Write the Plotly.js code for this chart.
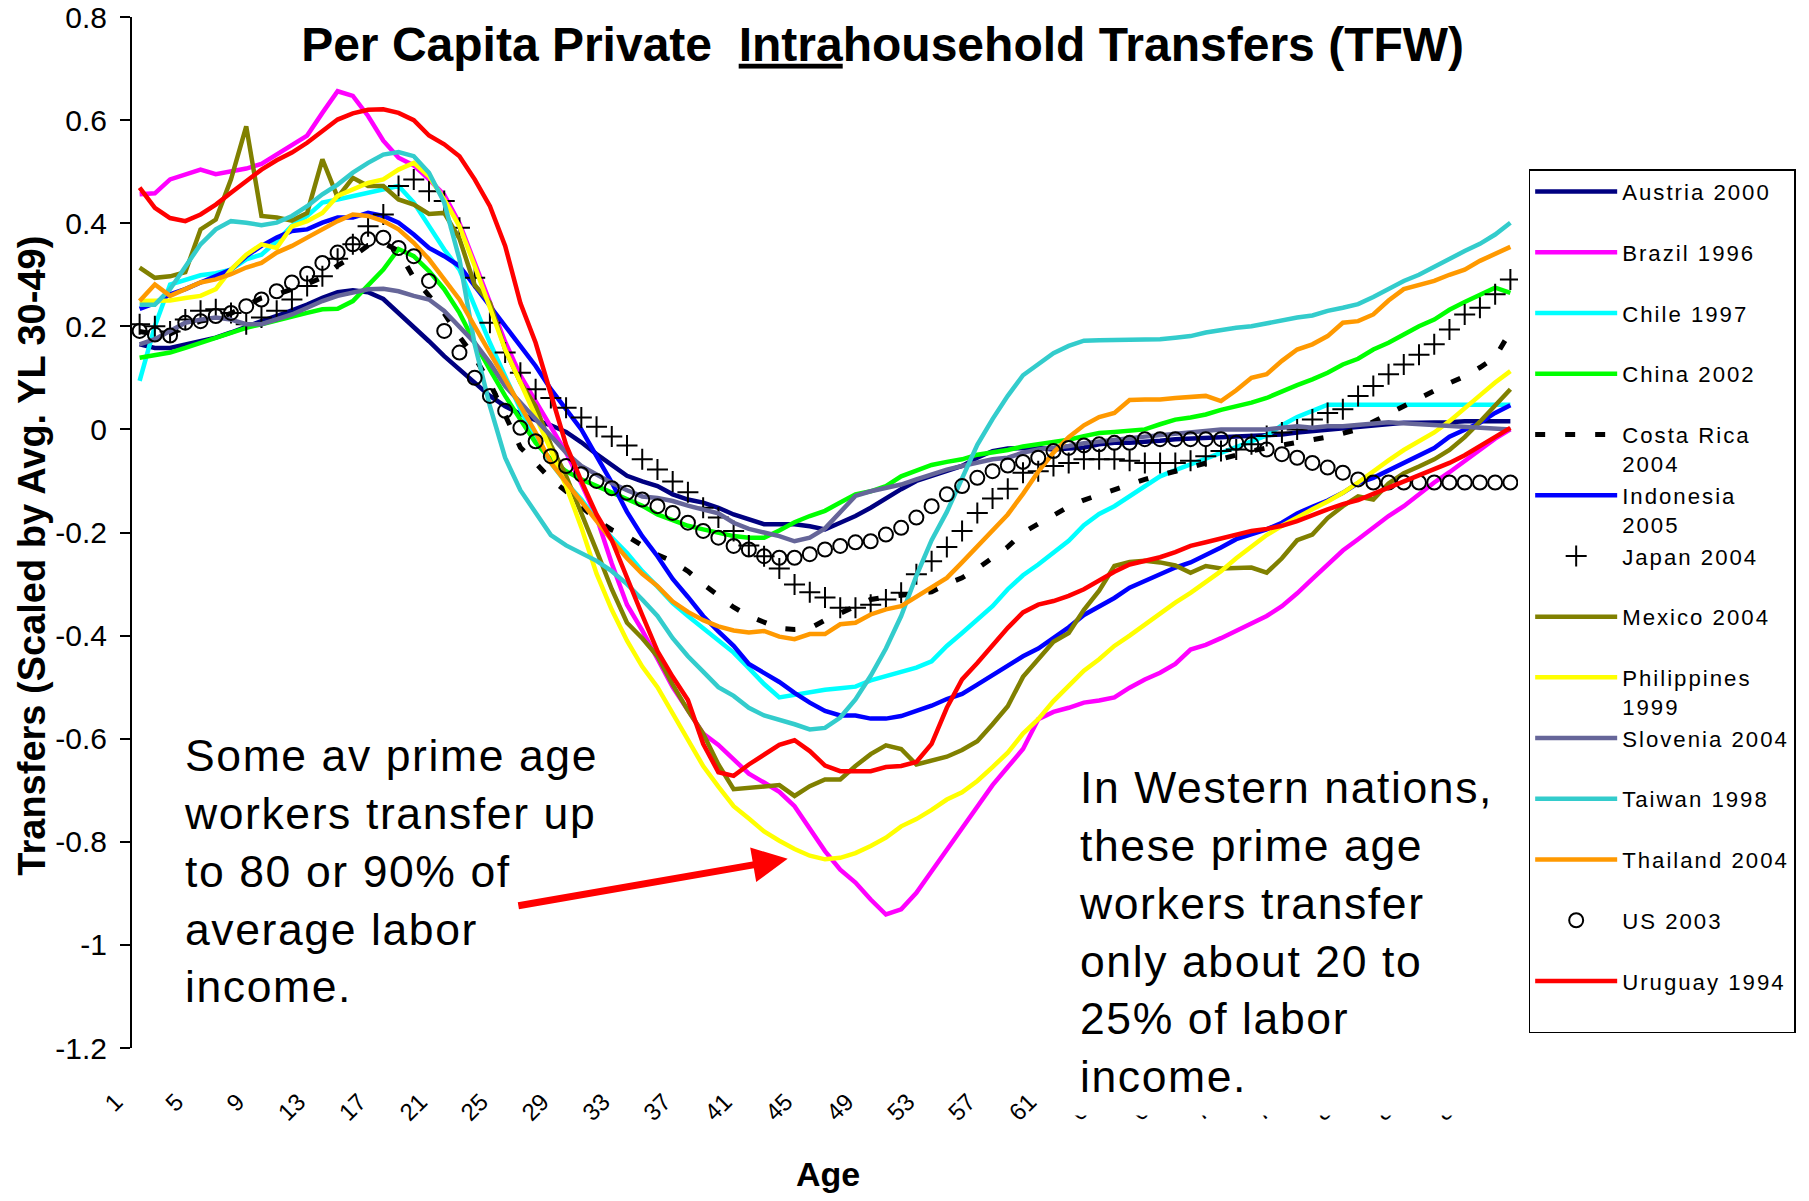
<!DOCTYPE html>
<html>
<head>
<meta charset="utf-8">
<script src="https://cdn.plot.ly/plotly-3.0.1.min.js"></script>
<style>
html,body{margin:0;padding:0;background:#fff;}
#chart{width:1809px;height:1201px;}
.legendtext{letter-spacing:2px;}
</style>
</head>
<body>
<div id="chart"></div>
<script>
// ---- categories (age) ----
const ages = [1,2,3,4,5,6,7,8,9,10,11,12,13,14,15,16,17,18,19,20,21,22,23,24,25,26,27,28,29,30,
  31,32,33,34,35,36,37,38,39,40,41,42,43,44,45,46,47,48,49,50,51,52,53,54,55,56,57,58,59,60,
  61,62,63,64,65,66,67,68,69,70,71,72,73,74,75,76,77,78,79,80,81,82,83,84,85,86,87,88,89,90,91];

// ---- tick labels ----
const xTickVals = [1,5,9,13,17,21,25,29,33,37,41,45,49,53,57,61,65,69,73,77,81,85,89];
const xTickText = ['1','5','9','13','17','21','25','29','33','37','41','45','49','53','57','61','65','69','73','77','81','85','89'];
const yTickVals = [-1.2,-1,-0.8,-0.6,-0.4,-0.2,0,0.2,0.4,0.6,0.8];
const yTickText = ['-1.2','-1','-0.8','-0.6','-0.4','-0.2','0','0.2','0.4','0.6','0.8'];

// ---- series (transfers scaled by avg. YL 30-49) ----
const austria2000 = [0.165,0.158,0.158,0.165,0.171,0.178,0.188,0.2,0.21,0.22,
  0.23,0.242,0.255,0.266,0.27,0.266,0.253,0.226,0.2,0.171,
  0.142,0.116,0.091,0.065,0.045,0.03,0.018,0.008,-0.005,-0.025,
  -0.048,-0.07,-0.09,-0.101,-0.11,-0.126,-0.136,-0.142,-0.152,-0.165,
  -0.175,-0.184,-0.184,-0.184,-0.188,-0.194,-0.181,-0.168,-0.152,-0.133,
  -0.116,-0.1,-0.091,-0.081,-0.071,-0.055,-0.042,-0.037,-0.036,-0.036,
  -0.039,-0.038,-0.035,-0.029,-0.026,-0.026,-0.025,-0.022,-0.019,-0.017,
  -0.016,-0.015,-0.014,-0.013,-0.013,-0.01,-0.006,-0.003,0.0,0.003,
  0.006,0.009,0.012,0.013,0.013,0.013,0.014,0.016,0.016,0.016,0.016];

const brazil1996 = [0.456,0.458,0.485,0.495,0.504,0.495,0.501,0.506,0.515,0.533,
  0.55,0.57,0.614,0.656,0.647,0.608,0.56,0.527,0.512,0.485,
  0.455,0.4,0.323,0.246,0.17,0.105,0.055,0.005,-0.045,-0.105,
  -0.17,-0.26,-0.34,-0.39,-0.446,-0.5,-0.545,-0.59,-0.612,-0.64,
  -0.668,-0.685,-0.703,-0.731,-0.776,-0.818,-0.854,-0.879,-0.912,-0.941,
  -0.931,-0.899,-0.857,-0.815,-0.773,-0.732,-0.69,-0.655,-0.62,-0.562,
  -0.548,-0.54,-0.53,-0.526,-0.52,-0.501,-0.485,-0.472,-0.455,-0.427,
  -0.418,-0.405,-0.39,-0.375,-0.362,-0.343,-0.318,-0.29,-0.262,-0.235,
  -0.213,-0.19,-0.168,-0.149,-0.125,-0.103,-0.083,-0.062,-0.04,-0.018,0.0];

const chile1997 = [0.094,0.2,0.281,0.291,0.299,0.303,0.31,0.33,0.339,0.365,
  0.395,0.414,0.44,0.446,0.453,0.459,0.466,0.472,0.44,0.394,
  0.349,0.31,0.239,0.168,0.103,0.039,-0.019,-0.065,-0.103,-0.136,
  -0.175,-0.21,-0.24,-0.275,-0.305,-0.337,-0.362,-0.386,-0.41,-0.433,
  -0.463,-0.494,-0.52,-0.515,-0.509,-0.505,-0.502,-0.499,-0.487,-0.478,
  -0.47,-0.462,-0.45,-0.42,-0.395,-0.369,-0.343,-0.31,-0.283,-0.262,
  -0.239,-0.216,-0.186,-0.164,-0.149,-0.129,-0.11,-0.091,-0.079,-0.068,
  -0.056,-0.045,-0.034,-0.022,-0.012,0.008,0.024,0.036,0.048,0.048,
  0.048,0.048,0.048,0.048,0.048,0.048,0.048,0.048,0.048,0.048,0.048];

const china2002 = [0.139,0.144,0.149,0.158,0.168,0.176,0.188,0.197,0.204,0.212,
  0.22,0.226,0.233,0.234,0.249,0.278,0.31,0.35,0.336,0.307,
  0.272,0.226,0.168,0.116,0.065,0.019,-0.026,-0.058,-0.081,-0.097,
  -0.11,-0.122,-0.135,-0.148,-0.165,-0.177,-0.187,-0.194,-0.2,-0.207,
  -0.21,-0.21,-0.196,-0.18,-0.168,-0.158,-0.142,-0.126,-0.12,-0.11,
  -0.091,-0.081,-0.069,-0.063,-0.058,-0.049,-0.045,-0.04,-0.033,-0.029,
  -0.026,-0.02,-0.013,-0.007,-0.005,-0.002,0.0,0.01,0.019,0.023,
  0.029,0.038,0.044,0.052,0.061,0.074,0.086,0.097,0.11,0.126,
  0.137,0.155,0.168,0.184,0.2,0.213,0.232,0.247,0.26,0.275,0.265];

const costaRica2004 = [0.19,0.185,0.185,0.2,0.21,0.215,0.225,0.24,0.255,0.262,
  0.272,0.282,0.295,0.318,0.335,0.357,0.362,0.346,0.294,0.26,
  0.225,0.18,0.14,0.09,0.025,-0.035,-0.065,-0.097,-0.12,-0.15,
  -0.175,-0.195,-0.207,-0.225,-0.243,-0.256,-0.275,-0.3,-0.322,-0.345,
  -0.362,-0.375,-0.386,-0.388,-0.386,-0.37,-0.356,-0.343,-0.33,-0.325,
  -0.322,-0.32,-0.315,-0.3,-0.288,-0.27,-0.25,-0.228,-0.2,-0.183,
  -0.165,-0.15,-0.137,-0.127,-0.117,-0.106,-0.097,-0.089,-0.081,-0.074,
  -0.067,-0.058,-0.05,-0.042,-0.036,-0.03,-0.025,-0.02,-0.015,-0.008,
  0.0,0.015,0.03,0.045,0.06,0.077,0.09,0.103,0.12,0.14,0.19];

const indonesia2005 = [0.234,0.245,0.262,0.272,0.285,0.298,0.31,0.336,0.356,0.372,
  0.385,0.388,0.401,0.411,0.411,0.42,0.414,0.401,0.378,0.352,
  0.336,0.317,0.278,0.239,0.2,0.162,0.123,0.078,0.039,0.0,
  -0.052,-0.103,-0.16,-0.207,-0.246,-0.29,-0.325,-0.362,-0.392,-0.42,
  -0.455,-0.472,-0.49,-0.511,-0.53,-0.546,-0.555,-0.555,-0.561,-0.561,
  -0.556,-0.546,-0.536,-0.523,-0.513,-0.495,-0.476,-0.458,-0.44,-0.425,
  -0.404,-0.384,-0.36,-0.343,-0.327,-0.307,-0.294,-0.28,-0.268,-0.258,
  -0.244,-0.229,-0.213,-0.203,-0.194,-0.181,-0.163,-0.15,-0.138,-0.123,
  -0.104,-0.094,-0.079,-0.065,-0.049,-0.036,-0.014,0.0,0.013,0.032,0.047];

const japan2004 = [0.204,0.2,0.19,0.213,0.23,0.233,0.226,0.204,0.217,0.23,
  0.252,0.278,0.297,0.331,0.359,0.394,0.417,0.472,0.485,0.462,
  0.443,0.391,0.294,0.207,0.149,0.11,0.078,0.061,0.042,0.023,
  0.005,-0.014,-0.031,-0.058,-0.078,-0.101,-0.122,-0.152,-0.171,-0.197,
  -0.225,-0.246,-0.27,-0.301,-0.316,-0.326,-0.346,-0.346,-0.34,-0.33,
  -0.317,-0.281,-0.256,-0.228,-0.197,-0.162,-0.134,-0.115,-0.084,-0.081,
  -0.071,-0.065,-0.058,-0.058,-0.058,-0.061,-0.065,-0.065,-0.065,-0.061,
  -0.052,-0.042,-0.039,-0.029,-0.013,-0.006,0.0,0.019,0.032,0.039,
  0.065,0.084,0.107,0.126,0.145,0.165,0.194,0.223,0.236,0.262,0.291];

const mexico2004 = [0.314,0.294,0.297,0.305,0.388,0.407,0.485,0.588,0.414,0.411,
  0.405,0.42,0.524,0.45,0.488,0.472,0.472,0.446,0.436,0.418,
  0.42,0.37,0.28,0.246,0.155,0.091,0.045,-0.03,-0.09,-0.16,
  -0.235,-0.31,-0.375,-0.405,-0.44,-0.495,-0.545,-0.59,-0.65,-0.698,
  -0.695,-0.693,-0.69,-0.711,-0.692,-0.679,-0.679,-0.653,-0.63,-0.613,
  -0.62,-0.65,-0.643,-0.635,-0.622,-0.605,-0.572,-0.537,-0.48,-0.446,
  -0.412,-0.395,-0.35,-0.313,-0.265,-0.257,-0.255,-0.258,-0.264,-0.278,
  -0.265,-0.27,-0.27,-0.268,-0.278,-0.25,-0.215,-0.204,-0.172,-0.149,
  -0.13,-0.136,-0.105,-0.085,-0.072,-0.058,-0.04,-0.015,0.015,0.048,0.078];

const philippines1999 = [0.249,0.249,0.25,0.255,0.259,0.272,0.31,0.339,0.359,0.352,
  0.394,0.404,0.42,0.453,0.466,0.478,0.485,0.504,0.517,0.491,
  0.446,0.394,0.317,0.233,0.155,0.091,0.026,-0.04,-0.11,-0.19,
  -0.28,-0.35,-0.41,-0.46,-0.5,-0.552,-0.605,-0.653,-0.693,-0.731,
  -0.755,-0.78,-0.798,-0.814,-0.827,-0.834,-0.831,-0.822,-0.808,-0.792,
  -0.77,-0.756,-0.738,-0.718,-0.704,-0.682,-0.655,-0.627,-0.59,-0.562,
  -0.527,-0.497,-0.468,-0.446,-0.42,-0.4,-0.378,-0.356,-0.336,-0.317,
  -0.297,-0.275,-0.25,-0.228,-0.205,-0.187,-0.17,-0.155,-0.14,-0.123,
  -0.103,-0.081,-0.06,-0.04,-0.023,-0.006,0.016,0.04,0.066,0.091,0.113];

const slovenia2004 = [0.165,0.175,0.191,0.207,0.213,0.217,0.213,0.204,0.204,0.213,
  0.223,0.236,0.249,0.259,0.265,0.272,0.273,0.268,0.259,0.252,
  0.23,0.2,0.168,0.129,0.084,0.052,0.019,-0.013,-0.045,-0.071,
  -0.088,-0.104,-0.118,-0.13,-0.133,-0.139,-0.148,-0.155,-0.163,-0.181,
  -0.193,-0.2,-0.207,-0.217,-0.21,-0.192,-0.162,-0.129,-0.12,-0.113,
  -0.107,-0.097,-0.087,-0.078,-0.071,-0.065,-0.058,-0.055,-0.045,-0.039,
  -0.036,-0.032,-0.027,-0.023,-0.02,-0.017,-0.014,-0.011,-0.008,-0.004,
  -0.002,0.0,0.0,0.0,0.0,0.003,0.006,0.003,0.006,0.006,
  0.008,0.012,0.014,0.012,0.01,0.01,0.007,0.006,0.003,0.001,0.0];

const taiwan1998 = [0.242,0.242,0.272,0.317,0.359,0.388,0.404,0.401,0.396,0.401,
  0.414,0.433,0.456,0.475,0.498,0.517,0.533,0.538,0.53,0.498,
  0.44,0.33,0.165,0.045,-0.055,-0.118,-0.162,-0.205,-0.225,-0.24,
  -0.255,-0.275,-0.3,-0.33,-0.362,-0.405,-0.44,-0.47,-0.5,-0.517,
  -0.54,-0.555,-0.563,-0.572,-0.582,-0.579,-0.559,-0.524,-0.478,-0.425,
  -0.362,-0.284,-0.215,-0.16,-0.095,-0.03,0.02,0.065,0.105,0.127,
  0.148,0.162,0.172,0.173,0.173,0.173,0.174,0.175,0.178,0.181,
  0.188,0.193,0.197,0.2,0.206,0.21,0.217,0.221,0.23,0.236,
  0.243,0.257,0.272,0.288,0.3,0.316,0.332,0.346,0.36,0.378,0.401];

const thailand2004 = [0.249,0.281,0.259,0.272,0.285,0.291,0.301,0.314,0.323,0.343,
  0.356,0.372,0.388,0.404,0.417,0.414,0.404,0.388,0.362,0.33,
  0.291,0.252,0.2,0.149,0.097,0.045,-0.006,-0.065,-0.103,-0.14,
  -0.18,-0.215,-0.25,-0.28,-0.304,-0.334,-0.354,-0.37,-0.382,-0.39,
  -0.394,-0.391,-0.402,-0.407,-0.397,-0.397,-0.378,-0.375,-0.359,-0.349,
  -0.343,-0.325,-0.308,-0.288,-0.258,-0.228,-0.197,-0.165,-0.125,-0.082,
  -0.045,-0.015,0.008,0.024,0.032,0.057,0.058,0.058,0.061,0.064,
  0.065,0.055,0.076,0.1,0.107,0.133,0.155,0.165,0.181,0.207,
  0.21,0.223,0.25,0.272,0.281,0.288,0.3,0.31,0.327,0.34,0.354];

const us2003 = [0.191,0.184,0.182,0.207,0.21,0.22,0.226,0.239,0.252,0.268,
  0.285,0.302,0.323,0.343,0.359,0.369,0.372,0.352,0.336,0.288,
  0.191,0.149,0.1,0.065,0.036,0.003,-0.023,-0.052,-0.071,-0.087,
  -0.1,-0.114,-0.123,-0.136,-0.149,-0.162,-0.181,-0.197,-0.21,-0.226,
  -0.233,-0.246,-0.249,-0.249,-0.242,-0.233,-0.226,-0.219,-0.217,-0.204,
  -0.191,-0.171,-0.149,-0.126,-0.11,-0.094,-0.081,-0.07,-0.063,-0.055,
  -0.042,-0.036,-0.031,-0.029,-0.026,-0.026,-0.019,-0.019,-0.019,-0.019,
  -0.019,-0.019,-0.026,-0.029,-0.039,-0.048,-0.055,-0.065,-0.074,-0.084,
  -0.097,-0.103,-0.103,-0.103,-0.103,-0.103,-0.103,-0.103,-0.103,-0.103,-0.103];

const uruguay1994 = [0.469,0.43,0.41,0.404,0.417,0.436,0.459,0.482,0.504,0.522,
  0.537,0.556,0.579,0.601,0.613,0.62,0.621,0.614,0.6,0.57,
  0.553,0.53,0.485,0.433,0.356,0.245,0.168,0.07,-0.03,-0.1,
  -0.165,-0.215,-0.29,-0.36,-0.43,-0.48,-0.525,-0.61,-0.665,-0.672,
  -0.65,-0.63,-0.612,-0.603,-0.624,-0.652,-0.663,-0.663,-0.663,-0.655,
  -0.653,-0.645,-0.61,-0.54,-0.485,-0.453,-0.418,-0.385,-0.355,-0.34,
  -0.333,-0.323,-0.31,-0.293,-0.276,-0.262,-0.255,-0.248,-0.238,-0.226,
  -0.219,-0.212,-0.203,-0.197,-0.193,-0.187,-0.178,-0.166,-0.155,-0.145,
  -0.137,-0.125,-0.113,-0.101,-0.088,-0.077,-0.065,-0.05,-0.033,-0.015,0.003];

// ---- annotation texts ----
const noteLeft = ['Some av prime age', 'workers transfer up', 'to 80 or 90% of', 'average labor', 'income.'];
const noteRight = ['In Western nations,', 'these prime age', 'workers transfer', 'only about 20 to', '25% of labor', 'income.'];

// ---- styling ----
const FONT = 'Liberation Sans, Arial, Helvetica, sans-serif';
const PAD = '<br>\u00a0'; // keeps every legend slot two lines tall
function spaced(lines, px) {
  return lines.map(function (l) { return '<span style="letter-spacing:' + px + 'px">' + l + '</span>'; }).join('<br>');
}

function lineTrace(name, y, color, extra) {
  return Object.assign({
    type: 'scatter', mode: 'lines', name: name, x: ages, y: y,
    line: {color: color, width: 4.5}, hoverinfo: 'skip'
  }, extra || {});
}

const traces = [
  lineTrace('Austria 2000' + PAD, austria2000, '#000080'),
  lineTrace('Brazil 1996' + PAD, brazil1996, '#FF00FF'),
  lineTrace('Chile 1997' + PAD, chile1997, '#00FFFF'),
  lineTrace('China 2002' + PAD, china2002, '#00FF00'),
  lineTrace('Costa Rica<br>2004', costaRica2004, '#000000', {line: {color: '#000000', width: 5, dash: '10px,20px'}}),
  lineTrace('Indonesia<br>2005', indonesia2005, '#0000FF'),
  {type: 'scatter', mode: 'markers', name: 'Japan 2004' + PAD, x: ages, y: japan2004, hoverinfo: 'skip',
    marker: {symbol: 'cross-thin-open', size: 15, color: '#000000', line: {color: '#000000', width: 2}}},
  lineTrace('Mexico 2004' + PAD, mexico2004, '#808000'),
  lineTrace('Philippines<br>1999', philippines1999, '#FFFF00'),
  lineTrace('Slovenia 2004' + PAD, slovenia2004, '#666699'),
  lineTrace('Taiwan 1998' + PAD, taiwan1998, '#33CCCC'),
  lineTrace('Thailand 2004' + PAD, thailand2004, '#FF9900'),
  {type: 'scatter', mode: 'markers', name: 'US 2003' + PAD, x: ages, y: us2003, hoverinfo: 'skip',
    marker: {symbol: 'circle-open', size: 14, color: '#000000', line: {color: '#000000', width: 2}}},
  lineTrace('Uruguay 1994' + PAD, uruguay1994, '#FF0000')
];

// annotation anchor points (arrow tip / tail, in data units)
const arrowTip = {x: 43.55, y: -0.833};
const arrowTail = {x: 25.67, y: -0.925};

const layout = {
  width: 1809, height: 1201,
  margin: {l: 132, r: 291, t: 17, b: 153, autoexpand: false},
  paper_bgcolor: '#ffffff', plot_bgcolor: '#ffffff',
  font: {family: FONT, color: '#000000'},
  showlegend: true,
  title: {
    text: '<b>Per Capita Private\u00a0 <u>Intra</u>household Transfers (TFW)</b>',
    font: {family: FONT, size: 48, color: '#000000'},
    x: 0.4879, xanchor: 'center', y: 0.9634, yanchor: 'middle'
  },
  xaxis: {
    range: [0.5, 91.5], tickmode: 'array', tickvals: xTickVals, ticktext: xTickText,
    tickangle: -45, ticks: '', showline: false, showgrid: false, zeroline: false,
    tickfont: {family: FONT, size: 24, color: '#000000'},
    ticklabelstandoff: 34, ticklabelshift: -24
  },
  xaxis2: {
    overlaying: 'x', range: [0.5, 91.5], anchor: 'free', position: 0.6, side: 'bottom',
    showline: true, linecolor: '#000000', linewidth: 2,
    ticks: 'outside', ticklen: 10, tickwidth: 2, tickcolor: '#000000',
    tickmode: 'linear', tick0: 0.5, dtick: 1, showticklabels: false,
    showgrid: false, zeroline: false
  },
  yaxis: {
    range: [-1.2, 0.8], tickmode: 'array', tickvals: yTickVals, ticktext: yTickText,
    ticks: 'outside', ticklen: 10, tickwidth: 2, tickcolor: '#000000',
    showline: true, linecolor: '#000000', linewidth: 2,
    showgrid: false, zeroline: false,
    tickfont: {family: FONT, size: 30, color: '#000000'}, ticklabelstandoff: 7
  },
  legend: {
    x: 1.0077, xanchor: 'left', y: 0.8524, yanchor: 'top',
    bgcolor: '#ffffff', bordercolor: '#000000', borderwidth: 1.5,
    font: {family: FONT, size: 22.2, color: '#000000'},
    itemwidth: 82, valign: 'top', traceorder: 'normal'
  },
  annotations: [
    {text: '<b>Transfers (Scaled by Avg. YL 30-49)</b>', textangle: -90,
      xref: 'paper', yref: 'paper', x: -0.0722, y: 0.4775, xanchor: 'center', yanchor: 'middle',
      showarrow: false, font: {family: FONT, size: 38, color: '#000000'}},
    {text: '<b>Age</b>', xref: 'paper', yref: 'paper', x: 0.5022, y: -0.122,
      xanchor: 'center', yanchor: 'middle', showarrow: false,
      font: {family: FONT, size: 34, color: '#000000'}},
    {text: spaced(noteLeft, 1.6),
      xref: 'paper', yref: 'paper', x: 0.0361, y: 0.3094, xanchor: 'left', yanchor: 'top',
      align: 'left', showarrow: false, font: {family: FONT, size: 44.5, color: '#000000'}},
    {text: spaced(noteRight, 1.6),
      xref: 'paper', yref: 'paper', x: 0.6722, y: 0.2906, xanchor: 'left', yanchor: 'top',
      align: 'left', showarrow: false, bgcolor: '#ffffff', borderpad: 14,
      font: {family: FONT, size: 44.5, color: '#000000'}},
    {text: ' ', xref: 'x', yref: 'y', x: arrowTip.x, y: arrowTip.y,
      axref: 'x', ayref: 'y', ax: arrowTail.x, ay: arrowTail.y,
      showarrow: true, arrowhead: 2, arrowsize: 1, arrowwidth: 7, arrowcolor: '#FF0000'}
  ]
};

Plotly.newPlot('chart', traces, layout, {displayModeBar: false, staticPlot: true});
</script>
</body>
</html>
